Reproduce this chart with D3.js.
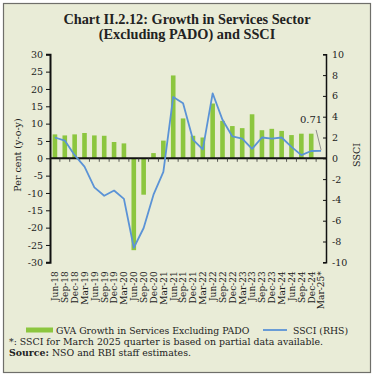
<!DOCTYPE html>
<html>
<head>
<meta charset="utf-8">
<script src="https://cdn.jsdelivr.net/npm/d3@7"></script>
<style>
  body { margin: 0; background: #fff; }
  svg text { font-family: "DejaVu Serif", "Liberation Serif", serif; fill: #222; }
  svg text.title { font-family: "Liberation Serif", serif; }
</style>
</head>
<body>
<svg id="chart" width="376" height="378"></svg>
<script>
// quarters, Jun-18 .. Mar-25
const quarters = ['Jun-18', 'Sep-18', 'Dec-18', 'Mar-19', 'Jun-19', 'Sep-19', 'Dec-19', 'Mar-20',
    'Jun-20', 'Sep-20', 'Dec-20', 'Mar-21', 'Jun-21', 'Sep-21', 'Dec-21', 'Mar-22',
    'Jun-22', 'Sep-22', 'Dec-22', 'Mar-23', 'Jun-23', 'Sep-23', 'Dec-23', 'Mar-24',
    'Jun-24', 'Sep-24', 'Dec-24', 'Mar-25*'];
// GVA growth in services excl. PADO (per cent, y-o-y), no value yet for Mar-25
const gvaGrowth = [6.9, 6.6, 6.9, 7.3, 6.6, 6.5, 4.7, 4.3,
    -26.5, -10.5, 1.5, 5.1, 23.9, 11.5, 6.5, 6.0,
    15.8, 10.8, 9.3, 8.7, 12.7, 8.1, 8.5, 7.9,
    6.7, 7.1, 7.1, null];
// SSCI (RHS)
const ssci = [2.0, 1.7, 0.3, -0.8, -2.8, -3.6, -3.1, -3.9,
    -8.6, -6.7, -3.5, -1.3, 5.9, 5.3, 1.8, 0.86,
    6.25, 3.7, 2.1, 1.9, 0.9, 2.0, 1.9, 2.0,
    1.1, 0.3, 0.7, 0.71];
const leftTicks = [30, 25, 20, 15, 10, 5, 0, -5, -10, -15, -20, -25, -30];
const rightTicks = [10, 8, 6, 4, 2, 0, -2, -4, -6, -8, -10];

const svg = d3.select('#chart');
const fmt = d => d3.format('d')(d).replace('−', '-');

// frame
svg.append('rect')
    .attr('x', 3.5).attr('y', 3.5)
    .attr('width', 367).attr('height', 369)
    .attr('fill', '#e9ecd7')
    .attr('stroke', '#6f6f6a')
    .attr('stroke-width', 1.2);

// title
const title = svg.append('text')
    .attr('class', 'title')
    .attr('text-anchor', 'middle')
    .attr('font-weight', 'bold')
    .attr('font-size', 14.3);
title.append('tspan').attr('x', 187).attr('y', 24).text('Chart II.2.12: Growth in Services Sector');
title.append('tspan').attr('x', 187).attr('y', 39).text('(Excluding PADO) and SSCI');

const plot = { left: 50, right: 326, top: 54.3, bottom: 262.3 };

const x = d3.scaleBand()
    .domain(quarters)
    .range([plot.left, plot.right])
    .paddingInner(0)
    .paddingOuter(0);

const yL = d3.scaleLinear().domain([-30, 30]).range([plot.bottom, plot.top]);
const yR = d3.scaleLinear().domain([-10, 10]).range([plot.bottom, plot.top]);

const barW = 4.6;

// bars
svg.append('g')
    .selectAll('rect')
    .data(quarters.map((q, i) => ({ q, v: gvaGrowth[i] })).filter(d => d.v !== null))
    .join('rect')
    .attr('x', d => x(d.q) + x.bandwidth() / 2 - barW / 2)
    .attr('y', d => yL(Math.max(0, d.v)))
    .attr('width', barW)
    .attr('height', d => Math.abs(yL(d.v) - yL(0)))
    .attr('fill', '#8cc63f');

// left axis
const axL = svg.append('g')
    .attr('transform', `translate(${plot.left},0)`)
    .call(d3.axisLeft(yL).tickValues(leftTicks).tickSize(4).tickPadding(3).tickFormat(fmt));
axL.select('.domain').attr('stroke', '#111').attr('stroke-width', 2);
axL.selectAll('.tick line').attr('stroke', '#111');
axL.selectAll('.tick text').attr('font-size', 9.5);

// right axis, ticks pointing inward
const axR = svg.append('g')
    .attr('transform', `translate(${plot.right},0)`)
    .call(d3.axisRight(yR).tickValues(rightTicks).tickSize(-3).tickPadding(6).tickFormat(fmt));
axR.select('.domain').attr('stroke', '#111').attr('stroke-width', 1.5);
axR.selectAll('.tick line').attr('stroke', '#111');
axR.selectAll('.tick text').attr('font-size', 9.5);

// zero line with ticks at band boundaries
const zeroY = yL(0);
svg.append('line')
    .attr('x1', plot.left).attr('x2', plot.right)
    .attr('y1', zeroY).attr('y2', zeroY)
    .attr('stroke', '#111').attr('stroke-width', 2);
svg.append('g')
    .selectAll('line')
    .data(quarters.slice(1))
    .join('line')
    .attr('x1', d => x(d)).attr('x2', d => x(d))
    .attr('y1', zeroY).attr('y2', zeroY + 3.5)
    .attr('stroke', '#333').attr('stroke-width', 0.8);

// SSCI line
const line = d3.line()
    .x((d, i) => x(quarters[i]) + x.bandwidth() / 2)
    .y(d => yR(d));
svg.append('path')
    .datum(ssci)
    .attr('d', line)
    .attr('fill', 'none')
    .attr('stroke', '#5b93d6')
    .attr('stroke-width', 1.8)
    .attr('stroke-linejoin', 'round');

// label for last SSCI value
const lastQ = quarters[quarters.length - 1];
const lastX = x(lastQ) + x.bandwidth() / 2;
const lastY = yR(ssci[ssci.length - 1]);
svg.append('line')
    .attr('x1', lastX - 5).attr('y1', lastY - 21)
    .attr('x2', lastX).attr('y2', lastY - 1)
    .attr('stroke', '#777').attr('stroke-width', 0.8);
svg.append('text')
    .attr('x', lastX - 10).attr('y', lastY - 28)
    .attr('text-anchor', 'middle')
    .attr('font-size', 10)
    .text(ssci[ssci.length - 1].toFixed(2));

// x labels, rotated
svg.append('g')
    .selectAll('text')
    .data(quarters)
    .join('text')
    .attr('transform', d => `translate(${x(d) + x.bandwidth() / 2 + 3.3},${plot.bottom + 9}) rotate(-90)`)
    .attr('text-anchor', 'end')
    .attr('font-size', 9)
    .text(d => d);

// axis titles
svg.append('text')
    .attr('transform', `translate(21,155) rotate(-90)`)
    .attr('text-anchor', 'middle')
    .attr('font-size', 9.5)
    .text('Per cent (y-o-y)');
svg.append('text')
    .attr('transform', `translate(360,155) rotate(-90)`)
    .attr('text-anchor', 'middle')
    .attr('font-size', 9.5)
    .text('SSCI');

// legend
const lg = svg.append('g').attr('transform', 'translate(0,330)');
lg.append('rect').attr('x', 26).attr('y', -2.5).attr('width', 27).attr('height', 5).attr('fill', '#8cc63f');
lg.append('text').attr('x', 56).attr('y', 3.5).attr('font-size', 9.3)
    .text('GVA Growth in Services Excluding PADO');
lg.append('line').attr('x1', 263).attr('x2', 287).attr('y1', 0).attr('y2', 0)
    .attr('stroke', '#5b93d6').attr('stroke-width', 1.8);
lg.append('text').attr('x', 293).attr('y', 3.5).attr('font-size', 9.3).text('SSCI (RHS)');

// notes
svg.append('text').attr('x', 9).attr('y', 344.5).attr('font-size', 9.4)
    .text('*: SSCI for March 2025 quarter is based on partial data available.');
const src = svg.append('text').attr('x', 9).attr('y', 356).attr('font-size', 9.4);
src.append('tspan').attr('font-weight', 'bold').text('Source:');
src.append('tspan').text(' NSO and RBI staff estimates.');
</script>
</body>
</html>
